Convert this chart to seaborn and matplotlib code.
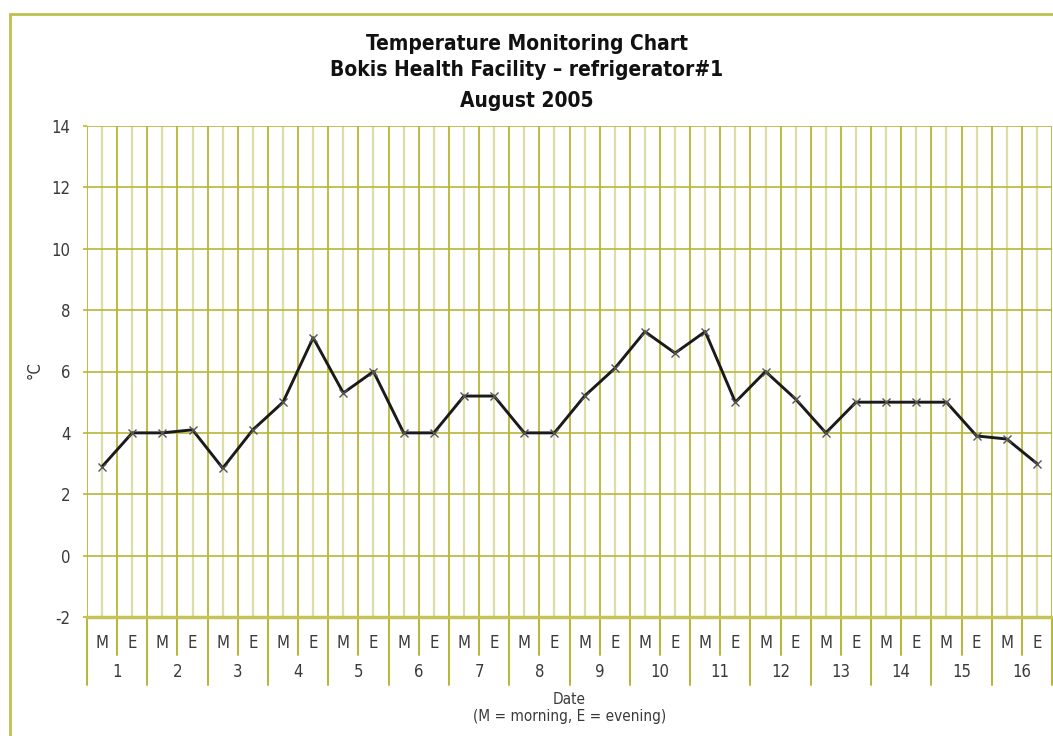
import matplotlib
matplotlib.use("Agg")
import numpy as np
import pandas as pd
import seaborn as sns
from matplotlib import pyplot as plt
from matplotlib.patches import Rectangle

sns.set_style("white")
plt.rcParams['font.family'] = ['Liberation Sans Narrow', 'DejaVu Sans Condensed', 'DejaVu Sans']
plt.rcParams['font.stretch'] = 'condensed'
plt.rcParams['axes.unicode_minus'] = False

# data
days = list(range(1, 17))
periods = ["M", "E"]
temp_morning = [2.9, 4.0, 2.85, 5.0, 5.3, 4.0, 5.2, 4.0, 5.2, 7.3, 7.3, 6.0, 4.0, 5.0, 5.0, 3.8]
temp_evening = [4.0, 4.1, 4.1, 7.1, 6.0, 4.0, 5.2, 4.0, 6.1, 6.6, 5.0, 5.1, 5.0, 5.0, 3.9, 3.0]
title_lines = ["Temperature Monitoring Chart",
               "Bokis Health Facility \u2013 refrigerator#1",
               "August 2005"]

rows = []
for i, d in enumerate(days):
    rows.append({"day": d, "period": "M", "slot": 2 * i, "temp": temp_morning[i]})
    rows.append({"day": d, "period": "E", "slot": 2 * i + 1, "temp": temp_evening[i]})
df = pd.DataFrame(rows)

DARK = "#b6b634"
LIGHT = "#dddda8"
TXT = "#3a3a3a"

W, H = 1053, 736
fig = plt.figure(figsize=(W / 100, H / 100), dpi=100)
ax = fig.add_axes([87 / W, (H - 617) / H, (1052 - 87) / W, (617 - 126) / H])

n = len(df)
# light lines through the readings, dark lines between slots
for s in df.slot:
    ax.axvline(s, color=LIGHT, lw=1.6, zorder=0)
for b in np.arange(-0.5, n, 1.0):
    ax.axvline(b, color=DARK, lw=1.3, zorder=0.5)
for yv in range(-2, 15, 2):
    ax.axhline(yv, color=DARK, lw=1.3, alpha=0.9, zorder=0.6)

sns.lineplot(data=df, x="slot", y="temp", ax=ax, color="#1a1a1a", lw=2.1,
             marker="x", markersize=6, markeredgecolor="#555555",
             markeredgewidth=1.0, zorder=3)

ax.set_xlim(-0.5, n - 0.5)
ax.set_ylim(-2, 14)
ax.set_yticks(range(-2, 15, 2))
ax.set_xticks(df.slot)
ax.set_xticklabels(df.period)
ax.tick_params(axis="x", length=0, pad=12, labelsize=12, labelcolor=TXT)
ax.tick_params(axis="y", length=3, width=1.2, color=DARK, pad=9, labelsize=12,
               labelcolor=TXT, left=True)
for side in ["top", "right", "left"]:
    ax.spines[side].set_visible(False)
ax.spines["bottom"].set_color("#c4c45a")
ax.spines["bottom"].set_linewidth(2.5)
ax.set_xlabel("")
ax.set_ylabel("")
fig.text(35 / W, 1 - 370 / H, "\u00b0C", rotation=90, ha="center", va="center",
         fontsize=12, color=TXT)

# dividers and day labels below the plot
trans = ax.get_xaxis_transform()
ph = 617 - 126
for i, d in enumerate(days):
    ax.plot([2 * i + 0.5] * 2, [0, -(655 - 617) / ph], transform=trans,
            color=DARK, lw=1.4, clip_on=False)
    ax.plot([2 * i - 0.5] * 2, [0, -(685 - 617) / ph], transform=trans,
            color=DARK, lw=1.4, clip_on=False)
    ax.text(2 * i + 0.5, -(672 - 617) / ph, str(d), transform=trans,
            ha="center", va="center", fontsize=12, color=TXT)
ax.plot([n - 0.5] * 2, [0, -(685 - 617) / ph], transform=trans,
        color=DARK, lw=1.4, clip_on=False)

ax.text(0.5, -(700 - 617) / ph, "Date", transform=ax.transAxes,
        ha="center", va="center", fontsize=11, color=TXT)
ax.text(0.5, -(717 - 617) / ph, "(M = morning, E = evening)", transform=ax.transAxes,
        ha="center", va="center", fontsize=11, color=TXT)

for line, ypix in zip(title_lines, [44, 70, 101]):
    fig.text(0.5, 1 - ypix / H, line, ha="center", va="center",
             fontsize=15, fontweight="bold", color="#111111")

# outer frame
fig.add_artist(Rectangle((10 / W, -0.1), 1.2, 1.1 - 14 / H, transform=fig.transFigure,
                         fill=False, edgecolor="#c0c050", lw=2))

fig.savefig("out.png", dpi=100)
